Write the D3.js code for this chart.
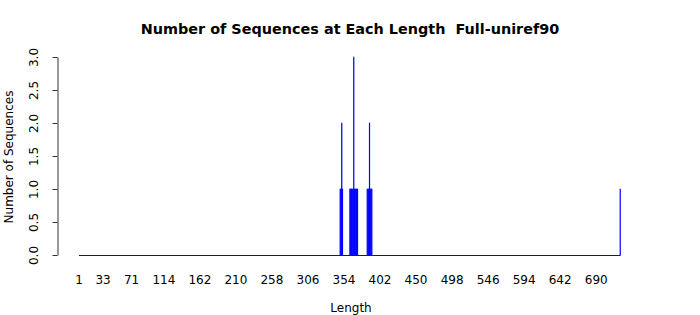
<!DOCTYPE html>
<html><head><meta charset="utf-8">
<script src="https://cdn.jsdelivr.net/npm/d3@7"></script>
<style>body{margin:0;background:#fff}svg{display:block}text{font-family:"DejaVu Sans",sans-serif;white-space:pre}</style>
</head><body><svg id="c" width="700" height="315"></svg>
<script>
const minLength = 1, maxLength = 722;
const lengths = [349,350,351,352, 362,363,364,365,366,367,368,369,370,371,372, 385,386,387,388,389,390,391, 722];
const counts  = [1,1,2,1, 1,1,1,1,1,3,1,1,1,1,1, 1,1,1,2,1,1,1, 1];
const xTickLabels = [1,33,71,114,162,210,258,306,354,402,450,498,546,594,642,690];
const yTicks = [0,0.5,1.0,1.5,2.0,2.5,3.0];
const title = "Number of Sequences at Each Length  Full-uniref90";
const xTitle = "Length", yTitle = "Number of Sequences";

const svg = d3.select("#c");
const x = d3.scaleLinear().domain([minLength, maxLength]).range([79, 620.25]);
const step = x(2) - x(1);
const y = d3.scaleLinear().domain([0, 3]).range([255, 57]);
const blue = "#0000ff";

// zero-height bars form the baseline
svg.append("line").attr("x1", x(minLength)).attr("x2", x(maxLength))
  .attr("y1", y(0)+0.5).attr("y2", y(0)+0.5).attr("stroke", blue).attr("stroke-width", 1);

const data = lengths.map((l, i) => ({l, c: counts[i]}));
svg.append("g").selectAll("rect").data(data).join("rect")
  .attr("x", d => x(d.l) - step*0.4)
  .attr("width", step*0.8)
  .attr("y", d => y(d.c))
  .attr("height", d => y(0) - y(d.c) + 0.5)
  .attr("fill", blue).attr("stroke", blue).attr("stroke-width", 0.6);

// y axis
const ya = svg.append("g").attr("transform", "translate(57.5,0)")
  .call(d3.axisLeft(y).tickValues(yTicks).tickFormat(d3.format(".1f")).tickSize(5).tickSizeOuter(0));
ya.select(".domain").attr("stroke", "#333");
ya.selectAll(".tick line").attr("stroke", "#333");
ya.selectAll(".tick text").attr("font-size", 12).attr("fill", "#000")
  .attr("transform", "rotate(-90)").attr("text-anchor", "middle").attr("x", 0).attr("y", -20).attr("dy", null);

// x labels (no axis line)
svg.append("g").selectAll("text").data(xTickLabels).join("text")
  .attr("x", d => x(d)).attr("y", 284).attr("text-anchor", "middle")
  .attr("font-size", 12).attr("fill", "#000").text(d => d);

svg.append("text").attr("x", 351).attr("y", 312).attr("text-anchor", "middle")
  .attr("font-size", 12).text(xTitle);
svg.append("text").attr("transform", "translate(13,157) rotate(-90)").attr("text-anchor", "middle")
  .attr("font-size", 12).text(yTitle);
svg.append("text").attr("x", 350).attr("y", 34).attr("text-anchor", "middle")
  .attr("font-size", 14.4).attr("font-weight", "bold").text(title);
</script></body></html>
